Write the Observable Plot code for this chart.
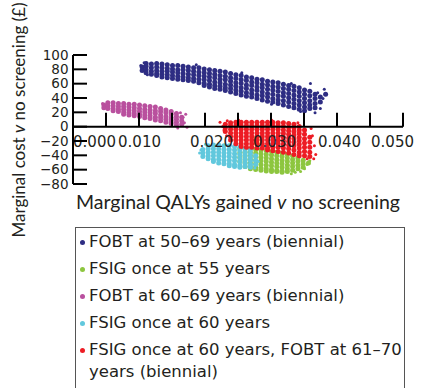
<!DOCTYPE html>
<html><head><meta charset="utf-8">
<script src="https://cdn.jsdelivr.net/npm/d3@7"></script>
<script src="https://cdn.jsdelivr.net/npm/@observablehq/plot@0.6"></script>
<style>
body{margin:0;background:#fff;font-family:Lato,"Noto Sans",sans-serif;color:#231f20;}
#wrap{position:relative;width:422px;height:388px;overflow:hidden;}
#chart{position:absolute;left:0;top:0;}
#chart svg{font-family:"DejaVu Sans",sans-serif;}
#ylab{position:absolute;left:18px;top:120px;transform:translate(-50%,-50%) rotate(-90deg);white-space:nowrap;font-size:17px;}
#xlab{position:absolute;left:73px;top:190px;width:330px;text-align:center;font-size:19.5px;white-space:nowrap;}
#legend{position:absolute;left:75px;top:227px;width:330px;height:200px;border:1px solid #555;box-sizing:border-box;padding:3px 0 0 0;font-family:"DejaVu Sans",sans-serif;font-size:16.5px;}
.item{display:flex;align-items:flex-start;line-height:22px;margin-bottom:5px;white-space:pre;}
.mk{width:5px;height:5px;border-radius:50%;margin:9px 4px 0 4px;flex:none;}
</style>
</head><body>
<div id="wrap">
<div id="chart"></div>
<div id="ylab">Marginal cost <i>v</i> no screening (£)</div>
<div id="xlab">Marginal QALYs gained <i>v</i> no screening</div>
<div id="legend"></div>
</div>
<script>
// Series names and colours
const seriesNames = [
  "FOBT at 50–69 years (biennial)",
  "FSIG once at 55 years",
  "FOBT at 60–69 years (biennial)",
  "FSIG once at 60 years",
  "FSIG once at 60 years, FOBT at 61–70\nyears (biennial)"
];
const seriesColors = ["#2e2d83", "#8dc63f", "#b9509e", "#61c8dd", "#ed1c24"];

// Each entry: [QALYs gained, [marginal costs at that QALY value]]
const fobt5069 = [
  [0.0104,[84,79]],[0.0110,[89,85,80,76]],[0.0118,[88,83,78,74]],[0.0126,[89,84,79,75,72]],
  [0.0134,[88,83,78,74,70]],[0.0142,[87,82,78,73,69]],[0.0150,[86,81,77,72,68]],[0.0158,[86,80,76,71,67]],
  [0.0166,[85,80,75,70,66]],[0.0174,[84,79,74,69,65]],[0.0182,[83,78,73,68,64]],[0.0190,[83,77,72,67,62]],
  [0.0198,[81,76,71,66,61,58]],[0.0206,[80,75,70,65,60,56]],[0.0214,[79,74,69,63,58,54]],[0.0222,[78,72,67,62,57,53]],
  [0.0230,[77,71,66,60,55,51]],[0.0238,[75,69,64,59,54,49]],[0.0246,[73,68,62,57,52,47]],[0.0254,[72,66,61,55,50,45]],
  [0.0262,[70,65,59,54,48,43]],[0.0270,[69,63,58,52,47,42]],[0.0278,[67,62,56,51,45,40]],[0.0286,[66,60,55,49,44,38]],
  [0.0294,[64,59,53,47,42,36]],[0.0302,[63,57,52,46,40,35]],[0.0310,[62,56,50,44,38,33]],[0.0318,[60,54,48,43,37,31]],
  [0.0326,[58,53,47,41,35,29]],[0.0334,[57,51,45,39,33,27]],[0.0342,[55,49,43,37,31,25]],[0.0350,[52,46,40,34,28,23]],
  [0.0358,[50,44,37,31,26]],[0.0366,[46,40,33,27]],[0.0374,[42,35]],[0.0382,[46]]
];
const fsig55 = [
  [0.0252,[-30,-36,-42,-48]],[0.0260,[-30,-35,-40,-45,-50,-55]],[0.0268,[-30,-35,-40,-45,-50,-55,-58]],
  [0.0276,[-31,-36,-41,-46,-51,-56,-59]],[0.0284,[-32,-37,-42,-47,-52,-57,-60]],[0.0292,[-33,-38,-43,-48,-53,-58,-61]],
  [0.0300,[-34,-39,-44,-49,-54,-59,-62]],[0.0308,[-35,-40,-45,-50,-55,-60,-62]],[0.0316,[-36,-41,-46,-51,-56,-61,-63]],
  [0.0324,[-38,-43,-48,-53,-58,-62]],[0.0332,[-40,-45,-50,-55,-60]],[0.0340,[-43,-48,-53,-58]],
  [0.0348,[-46,-51,-56]],[0.0356,[-50]]
];
const fobt6069 = [
  [0.0046,[31,27]],[0.0052,[34,30,26]],[0.0060,[34,30,26,23]],[0.0068,[33,29,25,22]],
  [0.0076,[33,29,25,21,18]],[0.0084,[32,28,24,20,17]],[0.0092,[32,27,23,19,16]],[0.0100,[31,26,22,18,15]],
  [0.0108,[30,25,21,17,13]],[0.0116,[29,24,20,16,12]],[0.0124,[28,23,19,14,10]],[0.0132,[26,22,17,13,9]],
  [0.0140,[24,20,15,11,7]],[0.0148,[22,18,13,9,5]],[0.0156,[19,15,11,7,3]],[0.0164,[14,9,4]]
];
const fsig60 = [
  [0.0196,[-31,-36,-41]],[0.0204,[-26,-30,-35,-40,-44]],[0.0212,[-25,-30,-35,-40,-45,-48]],
  [0.0220,[-25,-30,-35,-40,-45,-50]],[0.0228,[-26,-31,-36,-41,-46,-51]],[0.0236,[-26,-31,-36,-41,-46,-51,-54]],
  [0.0244,[-27,-32,-37,-42,-47,-52,-55]],[0.0252,[-28,-33,-38,-43,-48,-53,-56]],[0.0260,[-30,-35,-40,-45,-50,-55]],
  [0.0268,[-32,-37,-42,-47,-52,-56]],[0.0276,[-40,-46,-52]]
];
const fsig60fobt = [
  [0.0230,[4,-1,-6]],[0.0238,[6,2,-3,-8,-13,-18]],[0.0246,[7,2,-3,-8,-13,-18,-23]],
  [0.0254,[7,2,-3,-8,-13,-18,-23,-27]],[0.0262,[7,2,-3,-8,-13,-18,-23,-28]],[0.0270,[7,2,-3,-8,-13,-18,-23,-28]],
  [0.0278,[7,2,-3,-8,-13,-18,-23,-29]],[0.0286,[7,2,-3,-8,-13,-18,-23,-29]],[0.0294,[7,2,-3,-8,-13,-18,-23,-29,-32]],
  [0.0302,[7,2,-3,-8,-13,-18,-23,-28,-33]],[0.0310,[6,2,-3,-8,-13,-18,-23,-28,-34]],[0.0318,[6,1,-4,-9,-14,-19,-24,-29,-35]],
  [0.0326,[5,0,-5,-10,-15,-20,-25,-30,-36]],[0.0334,[4,-1,-6,-11,-16,-21,-26,-32,-38]],[0.0342,[1,-4,-9,-14,-19,-24,-29,-35,-40]],
  [0.0350,[-4,-10,-16,-22,-28,-34,-40]],[0.0358,[-14,-21,-28,-35,-41]]
];
// Scattered outlying simulations: [QALYs gained, marginal cost]
const fobt5069Out = [[0.0102,86],[0.0107,90],[0.0112,73],[0.0186,87],[0.0255,76],[0.0330,61],[0.0359,61],[0.0380,53],[0.0374,26],[0.0344,22],[0.0334,30],[0.0370,48],[0.0378,40],[0.0300,32],[0.0366,20]];
const fsig55Out = [[0.0336,-63],[0.0354,-52],[0.0350,-58],[0.0344,-62],[0.0330,-65],[0.0358,-47]];
const fobt6069Out = [[0.0170,18],[0.0168,6],[0.0172,0],[0.0166,14],[0.0162,20],[0.0044,33],[0.0158,-1]];
const fsig60Out = [[0.0191,-36],[0.0193,-32],[0.0275,-57],[0.0280,-48],[0.0200,-24]];
const fsig60fobtOut = [[0.0222,7],[0.0226,1],[0.0233,9],[0.0228,-4],[0.0232,-12],[0.0360,-2],[0.0365,-26],[0.0367,-38],[0.0364,-44],[0.0354,-44],[0.0340,6],[0.0362,-12],[0.0250,10],[0.0300,10]];

// Axis ticks
const xTickValues = [0.005,0.010,0.015,0.020,0.025,0.030,0.035,0.040,0.045,0.050];
const xLabelValues = [0.000,0.010,0.020,0.030,0.040,0.050];
const yTickValues = [100,80,60,40,20,0,-20,-40,-60,-80];
// Horizontal offsets of the x tick labels as set in the original figure (styling)
const xLabelShift = [21, 0, 6, 3, 2, -11];

const seriesData = [fobt5069, fsig55, fobt6069, fsig60, fsig60fobt];
const seriesOut = [fobt5069Out, fsig55Out, fobt6069Out, fsig60Out, fsig60fobtOut];
const core = seriesData.flatMap((cols, i) => cols.flatMap(([x, ys]) => ys.map(y => ({x, y, s: i}))));
const outs = seriesOut.flatMap((arr, i) => arr.map(([x, y]) => ({x, y, s: i})));

const minus = v => v < 0 ? "\u2212" + Math.abs(v) : String(v);
const fx = d3.format(".3f");

const chart = Plot.plot({
  width: 422, height: 220,
  marginLeft: 73, marginRight: 19, marginTop: 55, marginBottom: 36,
  x: {domain: [0, 0.05], axis: null},
  y: {domain: [-80, 100], axis: null},
  marks: [
    Plot.dot(core, {x: "x", y: "y", r: 2.5, fill: d => seriesColors[d.s]}),
    Plot.dot(outs, {x: "x", y: "y", r: 1.5, fill: d => seriesColors[d.s]}),
    Plot.text(yTickValues, {x: 0, y: d => d, text: minus, textAnchor: "end", dx: -5, fontSize: 13.5, fill: "#231f20"}),
    ...xLabelValues.map((v, i) =>
      Plot.text([v], {x: d => d, y: 0, text: fx, dy: 15, dx: xLabelShift[i], fontSize: 15, fill: "#231f20"}))
  ]
});
document.getElementById("chart").appendChild(chart);

// Axis lines and inward tick marks, placed through Plot's own scales
const sx = chart.scale("x"), sy = chart.scale("y");
const X = v => sx.apply(v), Y = v => sy.apply(v);
const yMin = d3.min(yTickValues), yMax = d3.max(yTickValues), xMax = d3.max(xTickValues);
const tickLen = 14;
const lines = [
  [X(0), Y(yMin), X(0), Y(yMax)],
  [X(0), Y(0), X(xMax), Y(0)],
  ...yTickValues.map(v => [X(0), Y(v), X(0) + tickLen, Y(v)]),
  ...xTickValues.map(v => [X(v), Y(0), X(v), Y(0) - tickLen])
];
const g = d3.select(chart).append("g").attr("stroke", "black").attr("stroke-width", 2);
lines.forEach(([x1, y1, x2, y2]) => {
  g.append("line").attr("x1", x1).attr("y1", y1).attr("x2", x2).attr("y2", y2)
    .attr("stroke", "black").attr("stroke-width", 2);
});

const legend = document.getElementById("legend");
seriesNames.forEach((name, i) => {
  const item = document.createElement("div");
  item.className = "item";
  const mk = document.createElement("span");
  mk.className = "mk";
  mk.style.background = seriesColors[i];
  const tx = document.createElement("span");
  tx.textContent = name;
  item.appendChild(mk); item.appendChild(tx);
  legend.appendChild(item);
});
</script>
</body></html>
